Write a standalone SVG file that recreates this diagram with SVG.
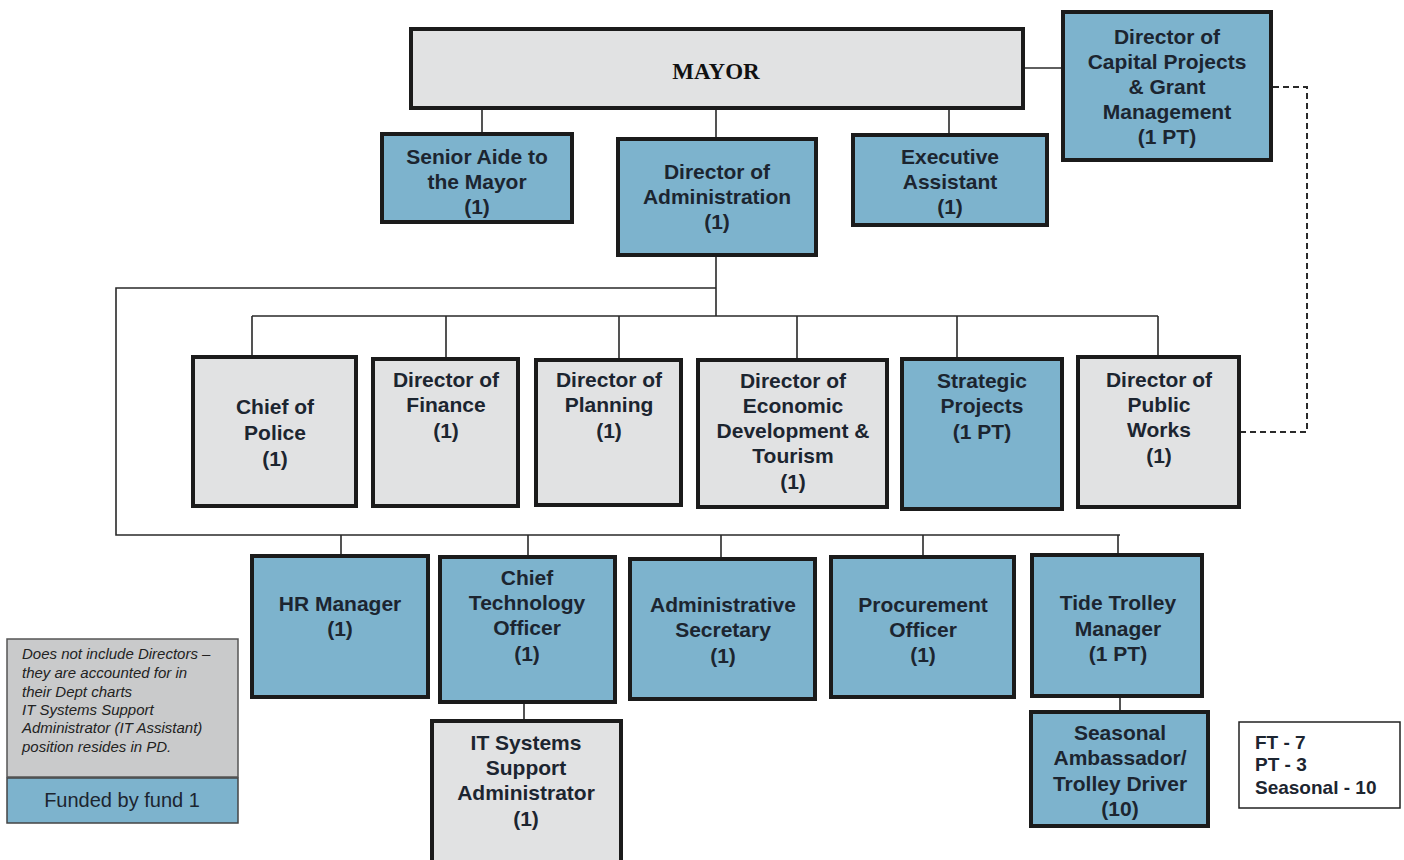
<svg xmlns="http://www.w3.org/2000/svg" width="1404" height="860" viewBox="0 0 1404 860">
<style>
.bx{stroke:#1b1b1b;stroke-width:4}
.bl{fill:#7db3cd}
.gr{fill:#e1e2e3}
.t{font-family:"Liberation Sans",Arial,sans-serif;font-weight:bold;font-size:21px;fill:#1c2530;text-anchor:middle}
.ln{stroke:#2a2a2a;stroke-width:1.6;fill:none}
.ds{stroke:#2a2a2a;stroke-width:2;fill:none;stroke-dasharray:6 4}
.it{font-family:"Liberation Sans",Arial,sans-serif;font-style:italic;font-size:15px;fill:#222}
</style>
<rect width="1404" height="860" fill="#ffffff"/>
<g id="connectors">
<path class="ln" d="M1025,68 H1061"/>
<path class="ln" d="M482,110 V132 M716,110 V137 M949,110 V133"/>
<path class="ln" d="M716,257 V316 M716,288 H116 V535 H1120"/>
<path class="ln" d="M252,316 H1158 M252,316 V355 M446,316 V357 M619,316 V376 M797,316 V358 M957,316 V357 M1158,316 V355"/>
<path class="ln" d="M341,535 V554 M528,535 V555 M721,535 V557 M923,535 V555 M1118,535 V553"/>
<path class="ln" d="M524,704 V719 M1120,698 V710"/>
<path class="ds" d="M1273,87 H1307 V432 H1241"/>
</g>
<g id="mayor">
<rect class="bx gr" x="411" y="29" width="612" height="79"/>
<text x="716" y="79" font-family="'Liberation Serif','Times New Roman',serif" font-weight="bold" font-size="23" fill="#111111" text-anchor="middle">MAYOR</text>
</g>
<g id="capital">
<rect class="bx bl" x="1063" y="12" width="208" height="148"/>
<text class="t"><tspan x="1167" y="44">Director of</tspan><tspan x="1167" y="69">Capital Projects</tspan><tspan x="1167" y="94">&amp; Grant</tspan><tspan x="1167" y="119">Management</tspan><tspan x="1167" y="144">(1 PT)</tspan></text>
</g>
<g id="senior-aide">
<rect class="bx bl" x="382" y="134" width="190" height="88"/>
<text class="t"><tspan x="477" y="164">Senior Aide to</tspan><tspan x="477" y="189">the Mayor</tspan><tspan x="477" y="214">(1)</tspan></text>
</g>
<g id="dir-admin">
<rect class="bx bl" x="618" y="139" width="198" height="116"/>
<text class="t"><tspan x="717" y="179">Director of</tspan><tspan x="717" y="204">Administration</tspan><tspan x="717" y="229">(1)</tspan></text>
</g>
<g id="exec-assistant">
<rect class="bx bl" x="853" y="135" width="194" height="90"/>
<text class="t"><tspan x="950" y="164">Executive</tspan><tspan x="950" y="189">Assistant</tspan><tspan x="950" y="214">(1)</tspan></text>
</g>
<g id="police">
<rect class="bx gr" x="193" y="357" width="163" height="149"/>
<text class="t"><tspan x="275" y="414">Chief of</tspan><tspan x="275" y="440">Police</tspan><tspan x="275" y="466">(1)</tspan></text>
</g>
<g id="finance">
<rect class="bx gr" x="373" y="359" width="145" height="147"/>
<text class="t"><tspan x="446" y="387">Director of</tspan><tspan x="446" y="412">Finance</tspan><tspan x="446" y="438">(1)</tspan></text>
</g>
<g id="planning">
<rect class="bx gr" x="536" y="360" width="145" height="145"/>
<text class="t"><tspan x="609" y="387">Director of</tspan><tspan x="609" y="412">Planning</tspan><tspan x="609" y="438">(1)</tspan></text>
</g>
<g id="econ-dev">
<rect class="bx gr" x="698" y="360" width="189" height="147"/>
<text class="t"><tspan x="793" y="388">Director of</tspan><tspan x="793" y="413">Economic</tspan><tspan x="793" y="438">Development &amp;</tspan><tspan x="793" y="463">Tourism</tspan><tspan x="793" y="489">(1)</tspan></text>
</g>
<g id="strategic">
<rect class="bx bl" x="902" y="359" width="160" height="150"/>
<text class="t"><tspan x="982" y="388">Strategic</tspan><tspan x="982" y="413">Projects</tspan><tspan x="982" y="439">(1 PT)</tspan></text>
</g>
<g id="public-works">
<rect class="bx gr" x="1078" y="357" width="161" height="150"/>
<text class="t"><tspan x="1159" y="387">Director of</tspan><tspan x="1159" y="412">Public</tspan><tspan x="1159" y="437">Works</tspan><tspan x="1159" y="463">(1)</tspan></text>
</g>
<g id="hr">
<rect class="bx bl" x="252" y="556" width="176" height="141"/>
<text class="t"><tspan x="340" y="611">HR Manager</tspan><tspan x="340" y="636">(1)</tspan></text>
</g>
<g id="cto">
<rect class="bx bl" x="440" y="557" width="175" height="145"/>
<text class="t"><tspan x="527" y="585">Chief</tspan><tspan x="527" y="610">Technology</tspan><tspan x="527" y="635">Officer</tspan><tspan x="527" y="661">(1)</tspan></text>
</g>
<g id="admin-sec">
<rect class="bx bl" x="630" y="559" width="185" height="140"/>
<text class="t"><tspan x="723" y="612">Administrative</tspan><tspan x="723" y="637">Secretary</tspan><tspan x="723" y="663">(1)</tspan></text>
</g>
<g id="procurement">
<rect class="bx bl" x="831" y="557" width="183" height="140"/>
<text class="t"><tspan x="923" y="612">Procurement</tspan><tspan x="923" y="637">Officer</tspan><tspan x="923" y="662">(1)</tspan></text>
</g>
<g id="tide-trolley">
<rect class="bx bl" x="1032" y="555" width="170" height="141"/>
<text class="t"><tspan x="1118" y="610">Tide Trolley</tspan><tspan x="1118" y="636">Manager</tspan><tspan x="1118" y="661">(1 PT)</tspan></text>
</g>
<g id="it-systems">
<rect class="bx gr" x="432" y="721" width="189" height="150"/>
<text class="t"><tspan x="526" y="750">IT Systems</tspan><tspan x="526" y="775">Support</tspan><tspan x="526" y="800">Administrator</tspan><tspan x="526" y="826">(1)</tspan></text>
</g>
<g id="seasonal">
<rect class="bx bl" x="1031" y="712" width="177" height="114"/>
<text class="t"><tspan x="1120" y="740">Seasonal</tspan><tspan x="1120" y="765">Ambassador/</tspan><tspan x="1120" y="791">Trolley Driver</tspan><tspan x="1120" y="816">(10)</tspan></text>
</g>
<g id="legend-note">
<rect x="7" y="639" width="231" height="138" fill="#c9cacb" stroke="#555" stroke-width="1.5"/>
<text class="it"><tspan x="22" y="659">Does not include Directors –</tspan><tspan x="22" y="678">they are accounted for in</tspan><tspan x="22" y="697">their Dept charts</tspan><tspan x="22" y="715">IT Systems Support</tspan><tspan x="22" y="733">Administrator (IT Assistant)</tspan><tspan x="22" y="752">position resides in PD.</tspan></text>
</g>
<g id="legend-fund">
<rect x="7" y="778" width="231" height="45" fill="#7db3cd" stroke="#444" stroke-width="1.5"/>
<text x="122" y="807" font-family="'Liberation Sans',Arial,sans-serif" font-size="20" fill="#1c2530" text-anchor="middle">Funded by fund 1</text>
</g>
<g id="totals">
<rect x="1239" y="722" width="161" height="86" fill="#ffffff" stroke="#222" stroke-width="1.5"/>
<text font-family="'Liberation Sans',Arial,sans-serif" font-weight="bold" font-size="19" fill="#1c2530"><tspan x="1255" y="749">FT - 7</tspan><tspan x="1255" y="771">PT - 3</tspan><tspan x="1255" y="794">Seasonal - 10</tspan></text>
</g>
</svg>
